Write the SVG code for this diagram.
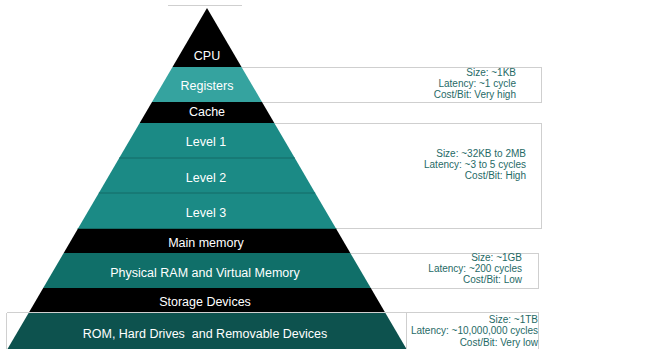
<svg xmlns="http://www.w3.org/2000/svg" width="655" height="349" viewBox="0 0 655 349">
<style>
.box{fill:none;stroke:#cfcfcf;stroke-width:1}
.lbl{font-family:"Liberation Sans",Arial,sans-serif;font-size:12.5px;fill:#ffffff;text-anchor:middle}
.info{font-family:"Liberation Sans",Arial,sans-serif;font-size:10px;fill:#1f6a66;text-anchor:end}
.sep{stroke:#146b66;stroke-width:1}
</style>
<rect width="655" height="349" fill="#ffffff"/>
<g id="info-boxes">
<rect class="box" x="200.5" y="67.5" width="341" height="35"/>
<rect class="box" x="200.5" y="123.5" width="341" height="105"/>
<rect class="box" x="200.5" y="253.5" width="338" height="35"/>
<line class="box" x1="168" y1="5.5" x2="242" y2="5.5"/>
</g>
<g id="cpu"><polygon points="207,8 241.5,67 172.5,67" fill="#000000"/><text class="lbl" x="207" y="60">CPU</text></g>
<g id="registers"><polygon points="172.5,67 241.5,67 262,102 152,102" fill="#35a39f"/><text class="lbl" x="207" y="90">Registers</text></g>
<g id="cache"><polygon points="152,102 262,102 274.3,123 139.7,123" fill="#000000"/><text class="lbl" x="207" y="116">Cache</text></g>
<g id="level1"><polygon points="139.7,123 274.3,123 294.8,158 119.2,158" fill="#1b8a85"/><text class="lbl" x="206" y="146">Level 1</text></g>
<g id="level2"><polygon points="119.2,158 294.8,158 315.2,193 98.8,193" fill="#1b8a85"/><text class="lbl" x="206" y="182">Level 2</text></g>
<g id="level3"><polygon points="98.8,193 315.2,193 336.3,229 77.7,229" fill="#1b8a85"/><text class="lbl" x="206" y="217">Level 3</text></g>
<g id="main-memory"><polygon points="77.7,229 336.3,229 350.3,253 63.7,253" fill="#000000"/><text class="lbl" x="206" y="247">Main memory</text></g>
<g id="physical-ram"><polygon points="63.7,253 350.3,253 370.8,288 43.2,288" fill="#106f69"/><text class="lbl" x="205" y="277">Physical RAM and Virtual Memory</text></g>
<g id="storage-devices"><polygon points="43.2,288 370.8,288 385.4,313 28.6,313" fill="#000000"/><text class="lbl" x="205" y="306">Storage Devices</text></g>
<g id="rom"><polygon points="28.6,313 385.4,313 406.5,349 7.5,349" fill="#0d524e"/><text class="lbl" x="205" y="338" xml:space="preserve">ROM, Hard Drives  and Removable Devices</text></g>
<g id="separators">
<line class="sep" x1="119.2" y1="158" x2="294.8" y2="158"/>
<line class="sep" x1="98.8" y1="193" x2="315.2" y2="193"/>
<line class="sep" x1="77.7" y1="228.5" x2="336.3" y2="228.5"/>
<line x1="7" y1="312.5" x2="406" y2="312.5" stroke="#d0d0d0" stroke-width="1"/>
<line x1="6.5" y1="313" x2="6.5" y2="349" stroke="#d0d0d0" stroke-width="1"/>
<rect class="box" x="406.5" y="312.5" width="132" height="40"/>
</g>
<g id="info-texts">
<text class="info" x="516" y="76">Size: ~1KB</text>
<text class="info" x="516" y="87">Latency: ~1 cycle</text>
<text class="info" x="516" y="98">Cost/Bit: Very high</text>
<text class="info" x="526" y="157">Size: ~32KB to 2MB</text>
<text class="info" x="526" y="168">Latency: ~3 to 5 cycles</text>
<text class="info" x="526" y="179">Cost/Bit: High</text>
<text class="info" x="522" y="261">Size: ~1GB</text>
<text class="info" x="522" y="272">Latency: ~200 cycles</text>
<text class="info" x="522" y="283">Cost/Bit: Low</text>
<text class="info" x="538" y="323">Size: ~1TB</text>
<text class="info" x="538" y="334">Latency: ~10,000,000 cycles</text>
<text class="info" x="538" y="345.5">Cost/Bit: Very low</text>
</g>
</svg>
